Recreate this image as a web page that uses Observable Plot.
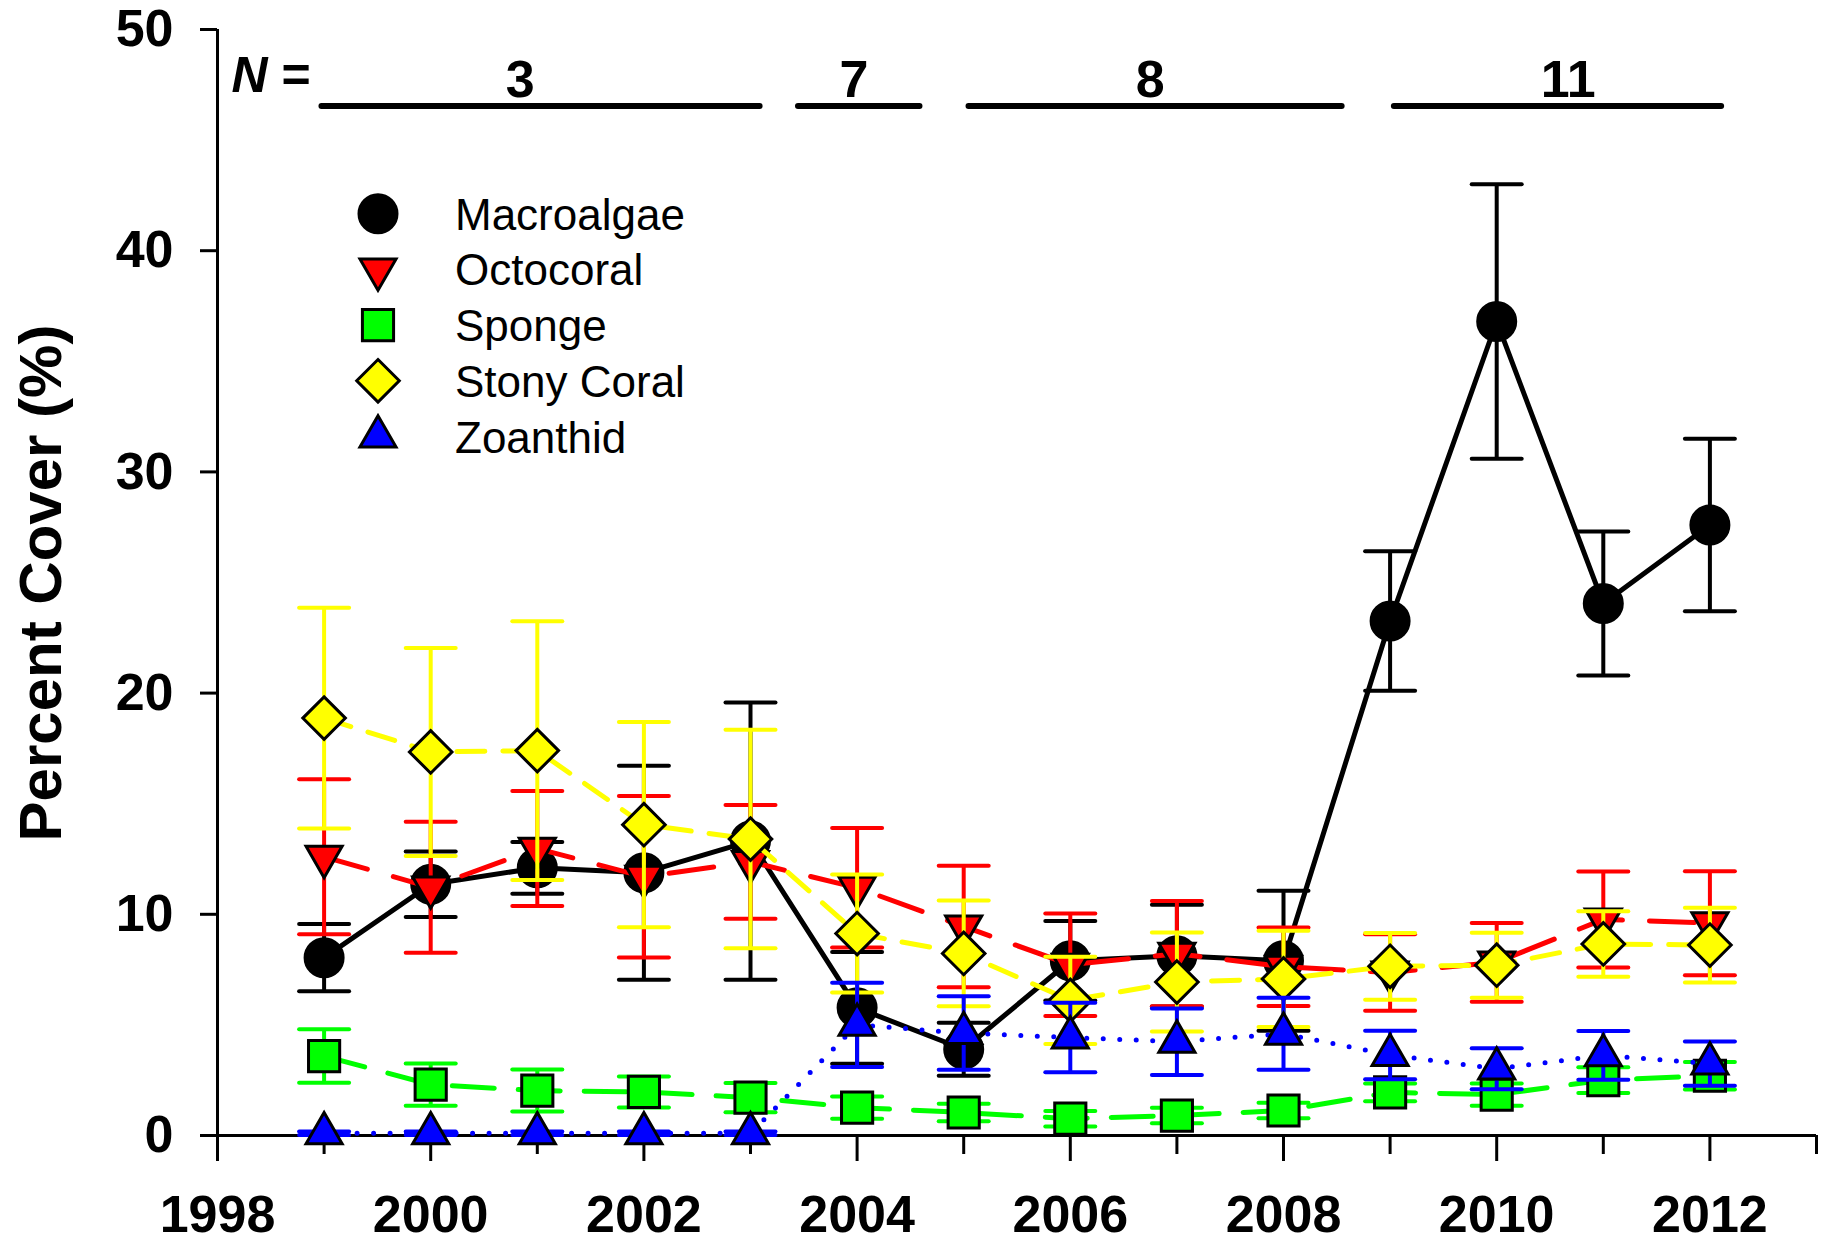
<!DOCTYPE html>
<html>
<head>
<meta charset="utf-8">
<script src="https://cdn.jsdelivr.net/npm/d3@7"></script>
<script src="https://cdn.jsdelivr.net/npm/@observablehq/plot@0.6"></script>
<style>
  html, body { margin: 0; padding: 0; background: #ffffff; }
  #chart { width: 1821px; height: 1243px; }
</style>
</head>
<body>
<div id="chart"></div>
<script>
// ---------- data ----------
const years = [1999, 2000, 2001, 2002, 2003, 2004, 2005, 2006, 2007, 2008, 2009, 2010, 2011, 2012];

const macroalgae    = [8.04, 11.36, 12.1, 11.88, 13.31, 5.77, 3.9, 7.9, 8.13, 7.9, 23.26, 36.8, 24.05, 27.6];
const macroalgaeErr = [1.52, 1.48, 1.17, 4.84, 6.27, 2.53, 1.2, 1.8, 2.3, 3.17, 3.15, 6.2, 3.25, 3.9];

const octocoral    = [12.6, 11.22, 12.97, 11.7, 12.37, 11.2, 9.45, 7.72, 8.22, 7.63, 7.37, 7.83, 9.77, 9.6];
const octocoralErr = [3.5, 2.96, 2.6, 3.65, 2.57, 2.7, 2.75, 2.32, 2.38, 1.77, 1.73, 1.78, 2.17, 2.35];

const sponge    = [3.59, 2.3, 2.03, 1.97, 1.71, 1.26, 1.04, 0.76, 0.9, 1.13, 1.95, 1.85, 2.5, 2.7];
const spongeErr = [1.21, 0.95, 0.95, 0.7, 0.66, 0.5, 0.4, 0.35, 0.35, 0.35, 0.4, 0.5, 0.58, 0.62];

const stonyCoral    = [18.87, 17.34, 17.4, 14.05, 13.4, 9.13, 8.23, 6.11, 6.94, 7.08, 7.65, 7.7, 8.66, 8.61];
const stonyCoralErr = [4.99, 4.7, 5.85, 4.64, 4.94, 2.67, 2.39, 1.97, 2.24, 2.18, 1.51, 1.47, 1.48, 1.69];

const zoanthid    = [0.1, 0.1, 0.1, 0.1, 0.1, 5.0, 4.63, 4.43, 4.24, 4.6, 3.64, 3.02, 3.62, 3.25];
const zoanthidErr = [0.08, 0.08, 0.08, 0.08, 0.08, 1.9, 1.66, 1.57, 1.5, 1.63, 1.1, 0.93, 1.1, 1.0];

const seriesNames = ["Macroalgae", "Octocoral", "Sponge", "Stony Coral", "Zoanthid"];

// sample size annotation
const nLabels   = ["3", "7", "8", "11"];
const nStart    = [1998.98, 2003.45, 2005.05, 2009.04];
const nEnd      = [2003.09, 2004.59, 2008.55, 2012.11];
const nLabelYear = [2000.84, 2003.97, 2006.75, 2010.67];

// axis ticks
const majorYears = [1998, 2000, 2002, 2004, 2006, 2008, 2010, 2012];
const minorYears = [1999, 2001, 2003, 2005, 2007, 2009, 2011, 2013];
const yTicks = [0, 10, 20, 30, 40, 50];

// ---------- symbols ----------
const symCircle = {draw(c, s) { const r = Math.sqrt(s / Math.PI); c.moveTo(r, 0); c.arc(0, 0, r, 0, 2 * Math.PI); c.closePath(); }};
const symTriDown = {draw(c, s) { const r = Math.sqrt(s / Math.PI), a = 0.95 * r, h = a * Math.sqrt(3);
  c.moveTo(-a, -h / 3); c.lineTo(a, -h / 3); c.lineTo(0, 2 * h / 3); c.closePath(); }};
const symTriUp = {draw(c, s) { const r = Math.sqrt(s / Math.PI), a = 0.95 * r, h = a * Math.sqrt(3);
  c.moveTo(-a, h / 3); c.lineTo(a, h / 3); c.lineTo(0, -2 * h / 3); c.closePath(); }};
const symSquare = {draw(c, s) { const r = Math.sqrt(s / Math.PI), q = 0.82 * r;
  c.moveTo(-q, -q); c.lineTo(q, -q); c.lineTo(q, q); c.lineTo(-q, q); c.closePath(); }};
const symDiamond = {draw(c, s) { const r = Math.sqrt(s / Math.PI), d = 1.12 * r;
  c.moveTo(0, -d); c.lineTo(d, 0); c.lineTo(0, d); c.lineTo(-d, 0); c.closePath(); }};
const symCap = {draw(c, s) { c.moveTo(-25, 0); c.lineTo(25, 0); }};

const series = [
  {name: seriesNames[0], values: macroalgae, err: macroalgaeErr, color: "#000000", dash: null,     sym: symCircle},
  {name: seriesNames[1], values: octocoral,  err: octocoralErr,  color: "#ff0000", dash: "45,27",  sym: symTriDown},
  {name: seriesNames[2], values: sponge,     err: spongeErr,     color: "#00ff00", dash: "42,24",  sym: symSquare},
  {name: seriesNames[3], values: stonyCoral, err: stonyCoralErr, color: "#ffff00", dash: "28,18",  sym: symDiamond},
  {name: seriesNames[4], values: zoanthid,   err: zoanthidErr,   color: "#0000ff", dash: "0,16.5", sym: symTriUp}
];

const R = 19;
const FONT = "'Liberation Sans', Arial, sans-serif";
const marks = [];

// axes
marks.push(Plot.ruleY([0], {x1: 1998, x2: 2013, stroke: "black", strokeWidth: 3}));
marks.push(Plot.ruleX([1998], {y1: 0, y2: 50, stroke: "black", strokeWidth: 3}));
marks.push(Plot.axisX(majorYears, {tickSize: 26, tickPadding: 34, strokeWidth: 3, tickFormat: d => String(d),
  label: null, fontSize: 52, fontWeight: "bold"}));
marks.push(Plot.axisX(minorYears, {tickSize: 19, strokeWidth: 3, tickFormat: () => "", label: null}));
marks.push(Plot.axisY(yTicks, {tickSize: 17, tickPadding: 27, strokeWidth: 3, label: null, fontSize: 52, fontWeight: "bold"}));

// N annotations
const nRows = nLabels.map((l, i) => ({label: l, start: nStart[i], end: nEnd[i], at: nLabelYear[i]}));
marks.push(Plot.ruleY(nRows, {y: () => 46.54, x1: "start", x2: "end", stroke: "black", strokeWidth: 6, strokeLinecap: "round"}));
marks.push(Plot.text(nRows, {x: "at", y: () => 46.54, text: "label", dy: -9, lineAnchor: "bottom",
  fontSize: 52, fontWeight: "bold", fill: "black"}));

// series
for (const s of series) {
  const rows = years.map((yr, i) => ({year: yr, value: s.values[i], lo: s.values[i] - s.err[i], hi: s.values[i] + s.err[i]}));
  marks.push(Plot.line(rows, {x: "year", y: "value", stroke: s.color, strokeWidth: 5,
    strokeDasharray: s.dash || undefined, strokeLinecap: "round", strokeLinejoin: "round"}));
  marks.push(Plot.ruleX(rows, {x: "year", y1: "lo", y2: "hi", stroke: s.color, strokeWidth: 4}));
  marks.push(Plot.dot(rows, {x: "year", y: "hi", symbol: symCap, r: 5, fill: "none", stroke: s.color, strokeWidth: 4, strokeLinecap: "round"}));
  marks.push(Plot.dot(rows, {x: "year", y: "lo", symbol: symCap, r: 5, fill: "none", stroke: s.color, strokeWidth: 4, strokeLinecap: "round"}));
  marks.push(Plot.dot(rows, {x: "year", y: "value", symbol: s.sym, r: R, fill: s.color, stroke: "black", strokeWidth: 3}));
}

const plot = Plot.plot({
  width: 1821,
  height: 1243,
  marginLeft: 217,
  marginRight: 5,
  marginTop: 29,
  marginBottom: 108,
  x: {domain: [1998, 2013]},
  y: {domain: [0, 50]},
  style: {fontFamily: FONT, fontSize: "52px", fontWeight: "bold", background: "#ffffff", overflow: "visible"},
  marks
});

const svg = d3.select(plot);
const xS = plot.scale("x");

// "N =" label
const nText = svg.append("text")
  .attr("x", xS.apply(nStart[0]) - 90)
  .attr("y", 92)
  .attr("text-anchor", "start")
  .attr("font-family", FONT)
  .attr("font-size", 50)
  .attr("font-weight", "bold")
  .attr("fill", "black");
nText.append("tspan").attr("font-style", "italic").text("N");
nText.append("tspan").text(" =");

// y-axis title
svg.append("text")
  .attr("transform", "translate(61,583) rotate(-90)")
  .attr("text-anchor", "middle")
  .attr("font-family", FONT)
  .attr("font-size", 60)
  .attr("font-weight", "bold")
  .attr("fill", "black")
  .text("Percent Cover (%)");

// legend
const lg = svg.append("g");
series.forEach((s, i) => {
  const cy = 213.7 + i * 55.7;
  const p = d3.path();
  s.sym.draw(p, R * R * Math.PI);
  lg.append("path")
    .attr("d", p.toString())
    .attr("transform", `translate(378,${cy})`)
    .attr("fill", s.color)
    .attr("stroke", "black")
    .attr("stroke-width", 3);
  lg.append("text")
    .attr("x", 455)
    .attr("y", cy + 16)
    .attr("text-anchor", "start")
    .attr("font-family", FONT)
    .attr("font-size", 44)
    .attr("font-weight", "normal")
    .attr("fill", "black")
    .text(s.name);
});

document.getElementById("chart").appendChild(plot);
</script>
</body>
</html>
